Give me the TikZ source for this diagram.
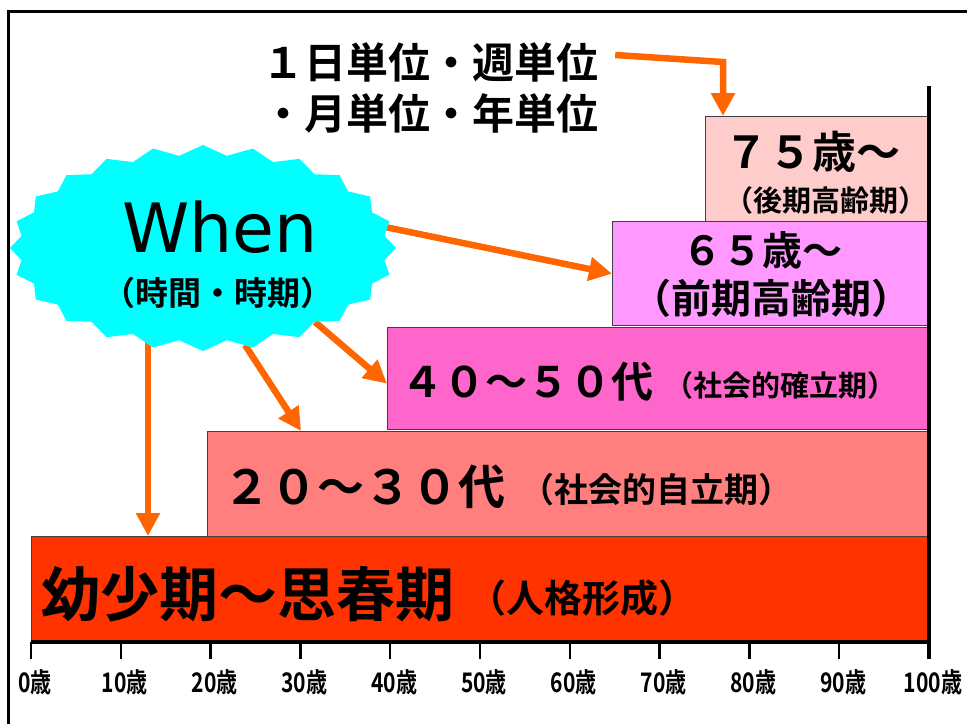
\documentclass[tikz,border=0pt]{standalone}
\usepackage{fontspec}
\usetikzlibrary{arrows.meta,shapes.symbols,backgrounds}
\newfontfamily\jp{Noto Sans CJK JP Bold}
\newfontfamily\jpn{Noto Sans CJK JP Bold}[FakeStretch=0.78]
\newfontfamily\lat{DejaVu Sans}
\newcommand\fsz[1]{\fontsize{#1}{#1}\selectfont}
\definecolor{c0}{HTML}{FF3300}
\definecolor{c2030}{HTML}{FF7F7F}
\definecolor{c4050}{HTML}{FF66CC}
\definecolor{c65}{HTML}{FF99FF}
\definecolor{c75}{HTML}{FFCCCC}
\definecolor{cyanc}{HTML}{00FFFF}
\definecolor{arrorange}{HTML}{FF6600}
\definecolor{boxline}{HTML}{404040}
\begin{document}
\begin{tikzpicture}[x=1pt,y=-1pt,
  box/.style={draw=boxline, line width=1.3pt, anchor=north west, inner sep=0pt},
  arr/.style={draw=arrorange, line width=6.5pt, -{Triangle[length=23pt,width=23pt]}},
  lbl/.style={inner sep=0pt, text=black},
  axisline/.style={line width=3.5pt},
  tickline/.style={line width=2.5pt},
  agelbl/.style={inner sep=0pt, font=\jpn\fsz{27}},
]
\useasboundingbox (0,0) rectangle (967,724);
% frame
\draw[line width=3pt] (8,724) -- (8,11) -- (967,11);

% boxes
\node[box, fill=c75, minimum width=224pt, minimum height=105pt] (b75) at (705,116) {};
\node[box, fill=c65, minimum width=317pt, minimum height=104pt] (b65) at (612,221) {};
\node[box, fill=c4050, minimum width=542pt, minimum height=102pt] (b4050) at (387,327) {};
\node[box, fill=c2030, minimum width=722pt, minimum height=105pt] (b2030) at (207,431) {};
\node[box, fill=c0, minimum width=898pt, minimum height=104pt] (b0) at (31,536) {};

% box texts
\node[lbl, font=\jp\fsz{44}] (t75a) at (812,152) {７５歳～};
\node[lbl, font=\jp\fsz{29}] (t75b) at (826,200) {（後期高齢期）};
\node[lbl, font=\jp\fsz{40}] (t65a) at (762,250) {６５歳～};
\node[lbl, font=\jp\fsz{40}] (t65b) at (771,298) {（前期高齢期）};
\node[lbl, font=\jp\fsz{42}] (t4050a) at (527,382) {４０～５０代};
\node[lbl, font=\jp\fsz{29}] (t4050b) at (780,385) {（社会的確立期）};
\node[lbl, font=\jp\fsz{47}] (t2030a) at (364,487) {２０～３０代};
\node[lbl, font=\jp\fsz{34}] (t2030b) at (656,490) {（社会的自立期）};
\node[lbl, font=\jp\fsz{59}] (t0a) at (248,594) {幼少期～思春期};
\node[lbl, font=\jp\fsz{38}] (t0b) at (582,598) {（人格形成）};

% top text
\node[lbl, font=\jp\fsz{42}] (t1a) at (430,62) {１日単位・週単位};
\node[lbl, font=\jp\fsz{42}] (t1b) at (430,113) {・月単位・年単位};

% axis
\draw[axisline] (31,642) -- (929,642);
\foreach \i in {0,...,10} \draw[tickline] (31+89.8*\i,642) -- ++(0,17);
\draw[axisline] (929,86) -- (929,659);
\foreach \i/\t in {0/0,1/10,2/20,3/30,4/40,5/50,6/60,7/70,8/80,9/90,10/100}
  \node[agelbl] (a\i) at (35+89.8*\i,682) {\t 歳};

% burst
\node[starburst, starburst points=24, starburst point height=10pt, random starburst=0,
  fill=cyanc, draw=none, minimum width=386pt, minimum height=206pt, inner sep=0pt] (when) at (203,248) {};
\node[lbl, font=\lat\fsz{68}] (whent) at (220,227) {When};
\node[lbl, font=\jp\fsz{33}] (whens) at (218,293) {（時間・時期）};

% arrows
\begin{pgfonlayer}{background}
\coordinate (k1) at (723,62);
\draw[arr] ([xshift=17pt,yshift=7pt]t1a.east) -- (k1) -- (k1 |- b75.north);
\draw[arr] ([shift={(182,-21)}]when.center) -- (b65.west);
\draw[arr] ([shift={(112,74)}]when.center) -- ([yshift=-5pt]b4050.west);
\draw[arr] ([shift={(42,97)}]when.center) -- ([xshift=94pt]b2030.north west);
\draw[arr] ([shift={(-55,92)}]when.center) -- ([xshift=117pt]b0.north west);
\end{pgfonlayer}
\end{tikzpicture}
\end{document}
